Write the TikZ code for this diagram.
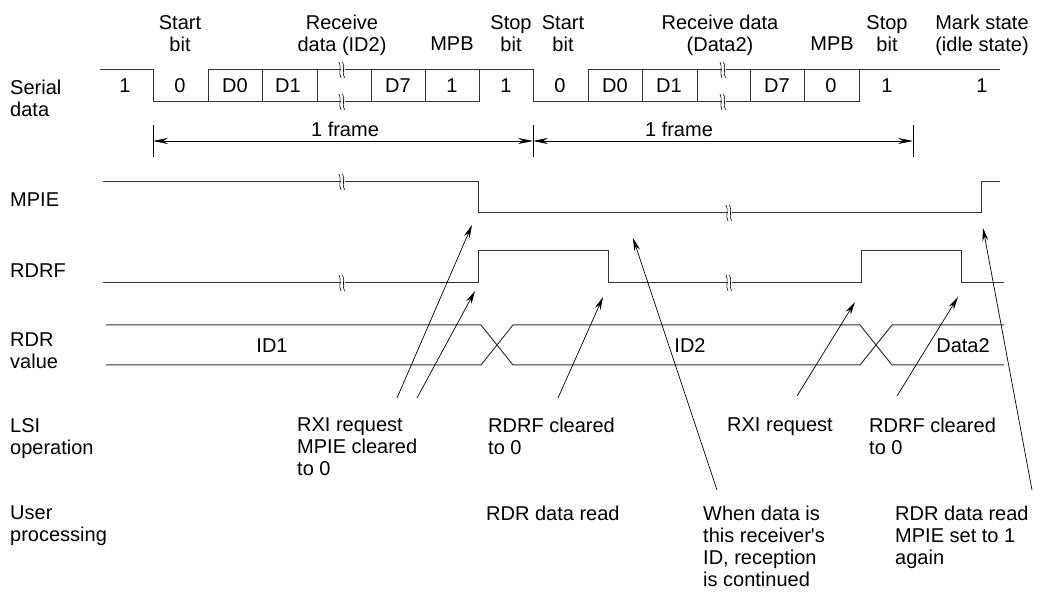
\documentclass[tikz,border=0pt]{standalone}
\usepackage{fontspec}
\setmainfont{Liberation Sans}
\usetikzlibrary{arrows.meta, positioning}

% small break mark on a signal line
\newcommand{\gapmark}[2]{%
  \fill[white] ({#1-1.8},{#2-4}) rectangle ({#1+1.8},{#2+4});
  \draw[line width=0.6pt] ({#1-4},{#2-8}) .. controls ({#1-1},{#2-3}) and ({#1-5},{#2+3}) .. ({#1-2},{#2+8});
  \draw[line width=0.6pt] ({#1-0.5},{#2-8}) .. controls ({#1+2.5},{#2-3}) and ({#1-1.5},{#2+3}) .. ({#1+1.5},{#2+8});
}

\begin{document}
\begin{tikzpicture}[x=1pt, y=-1pt,
        sig/.style={draw=black!80, line width=1pt},
        lbl/.style={inner sep=0pt, align=left, anchor=north west, font=\fontsize{20pt}{22pt}\selectfont},
        hdr/.style={inner sep=0pt, align=center, anchor=north, font=\fontsize{20pt}{22pt}\selectfont},
        bit/.style={inner sep=0pt, font=\fontsize{20pt}{22pt}\selectfont},
        note/.style={draw, line width=0.7pt, -{Stealth[length=13pt, width=6pt]}},
        span/.style={draw, line width=0.7pt, {Stealth[length=15pt, width=6pt]}-{Stealth[length=15pt, width=6pt]}}
    ]
    \useasboundingbox (0,0) rectangle (1041,601);

    % row labels
    \node[lbl] (serial) at (10,80) {Serial\\data};
    \node[lbl] (mpie) at (10,193) {MPIE};
    \node[lbl] (rdrf) at (10,264) {RDRF};
    \node[lbl] (rdr) at (10,333) {RDR\\value};
    \node[lbl] (lsi) at (10,418) {LSI\\operation};
    \node[lbl] (user) at (10,506) {User\\processing};

    % bit field headers
    \node[hdr] (start1) at (180,15) {Start\\bit};
    \node[hdr] (recv1) at (342,15) {Receive\\data (ID2)};
    \node[hdr] (mpb1) at (452,37) {MPB};
    \node[hdr] (stop1) at (511,15) {Stop\\bit};
    \node[hdr] (start2) at (563,15) {Start\\bit};
    \node[hdr] (recv2) at (720,15) {Receive data\\(Data2)};
    \node[hdr] (mpb2) at (832,37) {MPB};
    \node[hdr] (stop2) at (887,15) {Stop\\bit};
    \node[hdr] (idle) at (982,15) {Mark state\\(idle state)};

    % serial data
    \draw[sig] (100,70) -- (153,70) -- (153,102) -- (479,102);
    \draw[sig] (208,70) -- (533,70) -- (533,102) -- (859,102);
    \draw[sig] (588,70) -- (1000,70);
    \foreach \x in {208,262,317,371,425,479,588,642,697,750,804,859}
        \draw[sig] (\x,70) -- (\x,102);
    \gapmark{343}{70} \gapmark{343}{102}
    \gapmark{724}{70} \gapmark{724}{102}
    \foreach \x/\t in {125/1,180/0,235/D0,288/D1,398/D7,452/1,506/1,
                       560/0,615/D0,669/D1,777/D7,831/0,887/1,982/1}
        \node[bit] (c\x) at (\x,86) {\t};

    % frames
    \foreach \x in {153,533,913}
        \draw[line width=0.7pt] (\x,125) -- (\x,157);
    \coordinate (f0) at (153,141);
    \coordinate (f1) at (533,141);
    \coordinate (f2) at (913,141);
    \draw[span] (f0) -- (f1);
    \draw[span] (f1) -- (f2);
    \node[bit, anchor=base] (frame1) at (345,137) {1 frame};
    \node[bit, anchor=base] (frame2) at (679,137) {1 frame};

    % MPIE
    \draw[sig] (103,182) -- (478,182) -- (478,213) -- (981,213) -- (981,182) -- (1000,182);
    \gapmark{343}{182} \gapmark{730}{213}

    % RDRF
    \draw[sig] (103,283) -- (478,283) -- (478,251) -- (608,251) -- (608,283)
        -- (861,283) -- (861,251) -- (961,251) -- (961,283) -- (1004,283);
    \gapmark{343}{283} \gapmark{730}{283}

    % RDR value
    \draw[sig] (106,325) -- (481,325) -- (513,365) -- (860,365) -- (892,325) -- (1004,325);
    \draw[sig] (106,365) -- (481,365) -- (513,325) -- (860,325) -- (892,365) -- (1004,365);
    \node[bit] (id1) at (272,346) {ID1};
    \node[bit] (id2) at (690,346) {ID2};
    \node[bit] (data2) at (963,346) {Data2};

    % operations
    \node[lbl] (rxi1) at (297,418) {RXI request\\MPIE cleared\\to 0};
    \node[lbl] (clr1) at (488,418) {RDRF cleared\\to 0};
    \node[lbl] (rxi2) at (727,418) {RXI request};
    \node[lbl] (clr2) at (869,418) {RDRF cleared\\to 0};
    \node[lbl] (read1) at (486,506) {RDR data read};
    \node[lbl] (cont) at (703,506) {When data is\\this receiver\textquotesingle s\\ID, reception\\is continued};
    \node[lbl] (read2) at (895,506) {RDR data read\\MPIE set to 1\\again};

    \coordinate (t1) at (397,398); \coordinate (p1) at (472,225);
    \coordinate (t2) at (417,398); \coordinate (p2) at (475,291);
    \coordinate (t3) at (558,398); \coordinate (p3) at (603,297);
    \coordinate (t4) at (717,490); \coordinate (p4) at (633,238);
    \coordinate (t5) at (797,396); \coordinate (p5) at (855,302);
    \coordinate (t6) at (897,396); \coordinate (p6) at (958,297);
    \coordinate (t7) at (1032,490); \coordinate (p7) at (983,228);
    \foreach \i in {1,...,7}
        \draw[note] (t\i) -- (p\i);
\end{tikzpicture}
\end{document}
